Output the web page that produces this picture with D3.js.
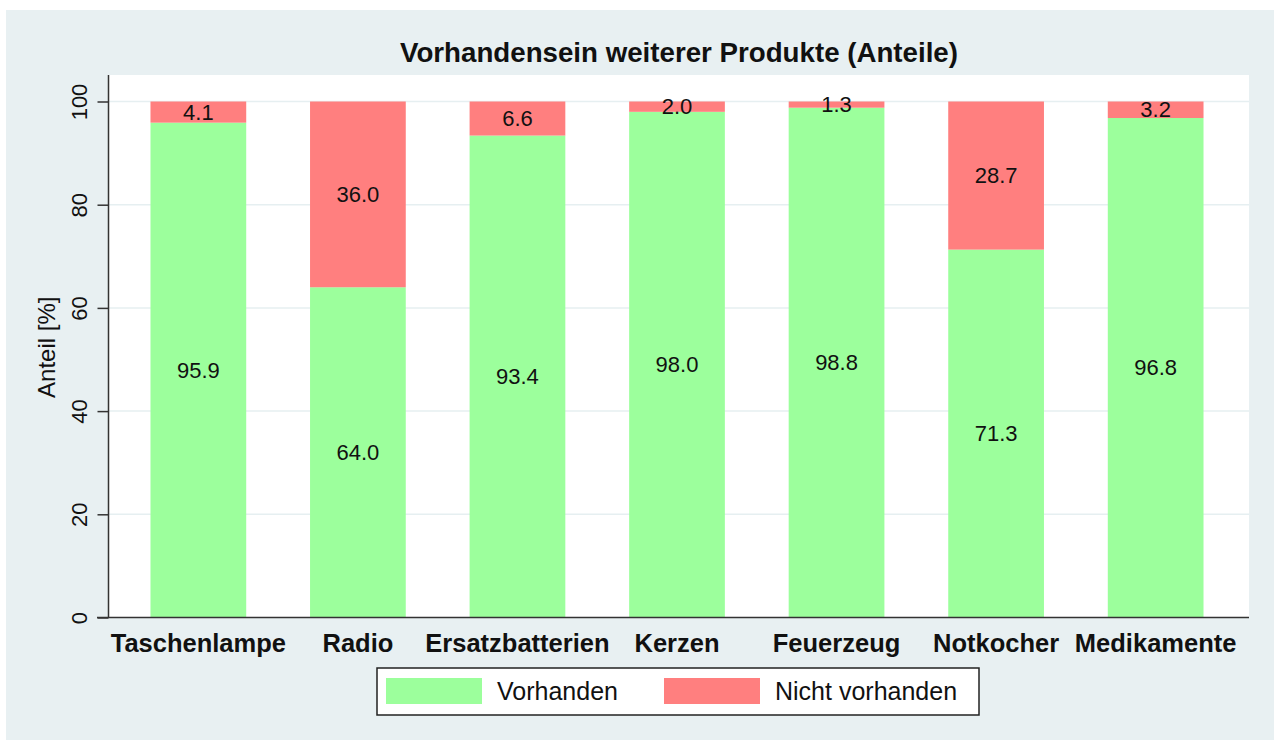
<!DOCTYPE html>
<html>
<head>
<meta charset="utf-8">
<script src="https://cdn.jsdelivr.net/npm/d3@7"></script>
<style>
  body { margin: 0; background: #fff; }
  svg text { font-family: "Liberation Sans", Arial, sans-serif; fill: #111; }
</style>
</head>
<body>
<div id="chart"></div>
<script>
// data
const products = ['Taschenlampe', 'Radio', 'Ersatzbatterien', 'Kerzen', 'Feuerzeug', 'Notkocher', 'Medikamente'];
const vorhanden = [95.9, 64.0, 93.4, 98.0, 98.8, 71.3, 96.8];
const nichtVorhanden = [4.1, 36.0, 6.6, 2.0, 1.3, 28.7, 3.2];
const seriesNames = ['Vorhanden', 'Nicht vorhanden'];
const seriesColors = ['#9cff9c', '#ff7f7f'];
const yTicks = [0, 20, 40, 60, 80, 100];

const W = 1274, H = 740;
const plot = {left: 109, right: 1249, top: 75, bottom: 617.5};

const svg = d3.select('#chart').append('svg')
    .attr('width', W)
    .attr('height', H);

// outer background
svg.append('rect')
    .attr('x', 6).attr('y', 10)
    .attr('width', W - 6).attr('height', H - 10)
    .attr('fill', '#e8f0f2');

// plot region
svg.append('rect')
    .attr('x', plot.left).attr('y', plot.top)
    .attr('width', plot.right - plot.left).attr('height', plot.bottom - plot.top)
    .attr('fill', '#fff');

// bands sit a little left of centre in the reference
const x = d3.scaleBand()
    .domain(products)
    .range([plot.left, plot.right - 4])
    .paddingInner(0.4)
    .paddingOuter(0.26);

const y = d3.scaleLinear()
    .domain([0, 100])
    .range([plot.bottom, 101.5]);

// gridlines
svg.append('g')
    .selectAll('line')
    .data(yTicks.filter(d => d > 0))
  .join('line')
    .attr('x1', plot.left).attr('x2', plot.right)
    .attr('y1', d => y(d)).attr('y2', d => y(d))
    .attr('stroke', '#e6eff1')
    .attr('stroke-width', 1.5);

// stacked bars
const rows = products.map((p, i) => ({product: p, Vorhanden: vorhanden[i], 'Nicht vorhanden': nichtVorhanden[i]}));
const stacked = d3.stack().keys(seriesNames)(rows);

const layers = svg.append('g')
    .selectAll('g')
    .data(stacked)
  .join('g')
    .attr('fill', (d, i) => seriesColors[i]);

layers.selectAll('rect')
    .data(d => d)
  .join('rect')
    .attr('x', d => x(d.data.product))
    .attr('width', x.bandwidth())
    .attr('y', d => y(Math.min(d[1], 100)))
    .attr('height', d => y(d[0]) - y(Math.min(d[1], 100)));

// value labels in the middle of each segment
layers.selectAll('text')
    .data(d => d)
  .join('text')
    .attr('x', d => x(d.data.product) + x.bandwidth() / 2)
    .attr('y', d => y((d[0] + Math.min(d[1], 100)) / 2))
    .attr('dy', '0.35em')
    .attr('text-anchor', 'middle')
    .style('font-size', '22px')
    .text(d => (d[1] - d[0]).toFixed(1));

// y axis
const yAxis = svg.append('g')
    .attr('transform', `translate(${plot.left - 0.5},0)`)
    .call(d3.axisLeft(y).tickValues(yTicks).tickSize(11).tickPadding(0));
yAxis.select('.domain')
    .attr('d', `M0,${plot.top}V${plot.bottom}`)
    .attr('stroke', '#333')
    .attr('stroke-width', 1.5);
yAxis.selectAll('.tick line').attr('stroke', '#333').attr('stroke-width', 1.5);
yAxis.selectAll('.tick text')
    .attr('x', null).attr('dy', null)
    .attr('text-anchor', 'middle')
    .attr('transform', 'translate(-22,0) rotate(-90)')
    .style('font-size', '22px')
    .style('font-family', '"Liberation Sans", Arial, sans-serif')
    .attr('fill', '#111');

// x axis line
svg.append('line')
    .attr('x1', plot.left - 12).attr('x2', plot.right)
    .attr('y1', plot.bottom).attr('y2', plot.bottom)
    .attr('stroke', '#333')
    .attr('stroke-width', 1.5);

// x labels
svg.append('g')
    .selectAll('text')
    .data(products)
  .join('text')
    .attr('x', d => x(d) + x.bandwidth() / 2)
    .attr('y', 652)
    .attr('text-anchor', 'middle')
    .style('font-size', '25.5px')
    .style('font-weight', 'bold')
    .text(d => d);

// axis title
svg.append('text')
    .attr('transform', `translate(55,${(plot.top + plot.bottom) / 2 + 1}) rotate(-90)`)
    .attr('text-anchor', 'middle')
    .style('font-size', '24px')
    .text('Anteil [%]');

// title
svg.append('text')
    .attr('x', (plot.left + plot.right) / 2)
    .attr('y', 62)
    .attr('text-anchor', 'middle')
    .style('font-size', '27.7px')
    .style('font-weight', 'bold')
    .text('Vorhandensein weiterer Produkte (Anteile)');

// legend
const legend = svg.append('g').attr('transform', 'translate(377,668)');
legend.append('rect')
    .attr('width', 602).attr('height', 47)
    .attr('fill', '#fff')
    .attr('stroke', '#222')
    .attr('stroke-width', 1.5);
const legendX = [9, 287];
const items = legend.selectAll('.item')
    .data(seriesNames)
  .join('g')
    .attr('class', 'item')
    .attr('transform', (d, i) => `translate(${legendX[i]},10)`);
items.append('rect')
    .attr('width', 96).attr('height', 26)
    .attr('fill', (d, i) => seriesColors[i]);
items.append('text')
    .attr('x', 111).attr('y', 22)
    .style('font-size', '25px')
    .text(d => d);
</script>
</body>
</html>
